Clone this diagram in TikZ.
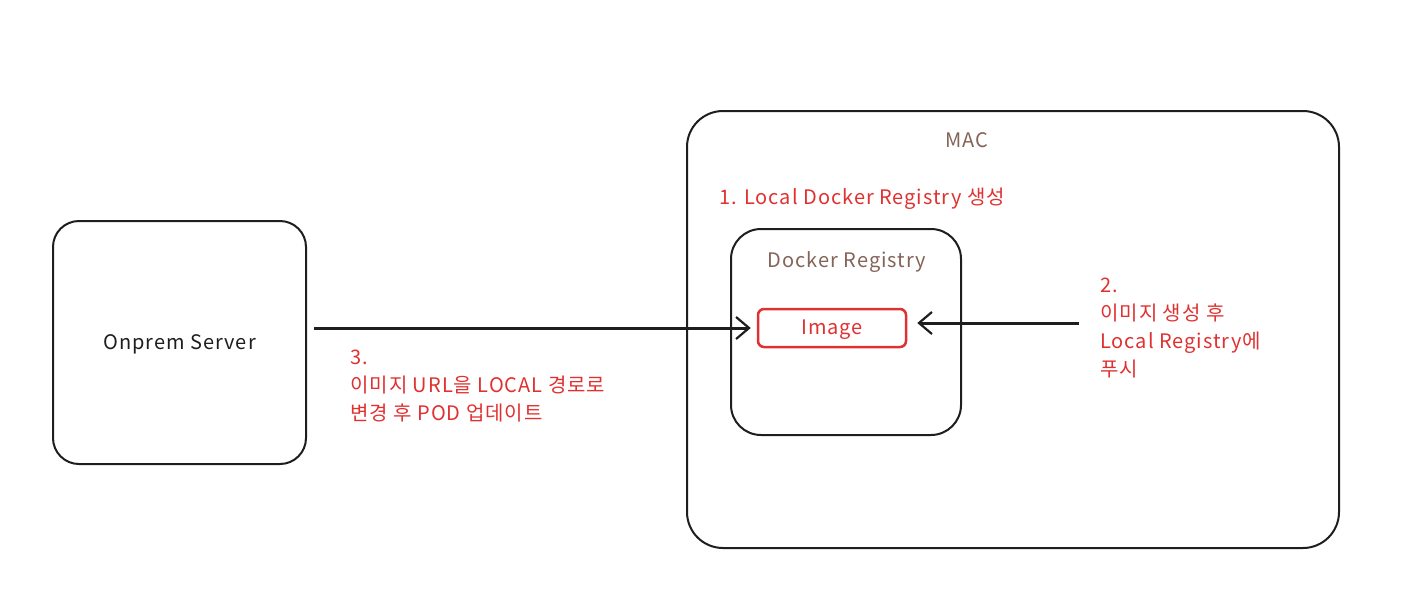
\documentclass[tikz,border=0pt]{standalone}
\usepackage{fontspec}
\setmainfont{Noto Sans CJK KR}[LetterSpace=5]
\usetikzlibrary{arrows.meta,calc}
\definecolor{exred}{HTML}{E03131}
\definecolor{exbrown}{HTML}{846358}
\definecolor{exblack}{HTML}{1E1E1E}
\tikzset{
  box/.style={draw=exblack, line width=2pt, rectangle, inner sep=0pt},
  redbox/.style={draw=exred, line width=2.5pt, rectangle, inner sep=0pt, rounded corners=6pt},
  redtxt/.style={text=exred, font=\fontsize{20}{28}\selectfont, align=left, inner sep=0pt},
  browntxt/.style={text=exbrown, font=\fontsize{20}{24}\selectfont, inner sep=0pt},
  conn/.style={draw=exblack, line width=3pt, -{Straight Barb[length=13pt,width=22pt,line width=2.2pt]}},
}
\begin{document}
\begin{tikzpicture}[x=1pt,y=-1pt]
\useasboundingbox (0,0) rectangle (1410,598);
% boxes
\node[box, rounded corners=26pt, minimum width=253pt, minimum height=243pt] (onprem) at (179.5,342.5) {};
\node[font=\fontsize{20}{24}\selectfont, text=exblack, inner sep=0pt] (onlbl) at (179.5,344) {Onprem Server};
\node[box, rounded corners=36pt, minimum width=652pt, minimum height=437pt] (mac) at (1013,329.5) {};
\node[browntxt] (maclbl) at (967,140) {MAC};
\node[redtxt, anchor=west] (t1) at (719,199) {1. Local Docker Registry 생성};
\node[box, rounded corners=30pt, minimum width=230pt, minimum height=206pt] (reg) at (846,332) {};
\node[browntxt] (reglbl) at (847,262) {Docker Registry};
\node[redbox, minimum width=148pt, minimum height=38pt] (img) at (832,328) {};
\node[text=exred, font=\fontsize{20}{24}\selectfont, inner sep=0pt] (imglbl) at (832,330) {Image};
% labels
\node[redtxt, anchor=west] (t2) at (1100,328) {2.\\이미지 생성 후\\Local Registry에\\푸시};
\node[redtxt, anchor=west] (t3) at (350,386) {3.\\이미지 URL을 LOCAL 경로로\\변경 후 POD 업데이트};
% connectors
\coordinate (s2) at (1079,323);
\draw[conn, shorten <=7pt, shorten >=6pt] (onprem.east |- img.west) -- (img.west);
\draw[conn, shorten >=10pt] (s2) -- (s2 -| img.east);
\end{tikzpicture}
\end{document}
